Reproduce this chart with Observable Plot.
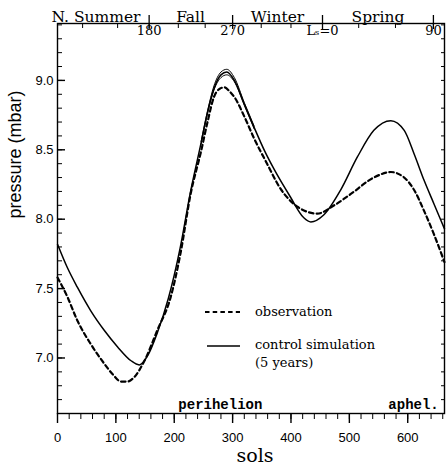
<!DOCTYPE html>
<html><head><meta charset="utf-8">
<script src="https://cdn.jsdelivr.net/npm/d3@7"></script>
<script src="https://cdn.jsdelivr.net/npm/@observablehq/plot@0.6"></script>
<style>body{margin:0;background:#fff}#chart{width:447px;height:467px}</style>
</head><body><div id="chart"></div>
<script>
// Observed surface pressure (dashed)
const obsSols = [0, 17, 34, 57, 80, 95, 109, 120, 131, 149, 171, 194, 211, 228, 246, 257, 268, 278, 286, 295, 303, 320, 337, 359, 382, 411, 430, 445, 474, 502, 542, 571, 594, 611, 628, 645, 663];
const obsPressure = [7.58, 7.44, 7.27, 7.10, 6.96, 6.88, 6.83, 6.83, 6.86, 6.98, 7.20, 7.44, 7.76, 8.18, 8.49, 8.70, 8.88, 8.94, 8.95, 8.92, 8.88, 8.74, 8.58, 8.40, 8.22, 8.09, 8.05, 8.04, 8.10, 8.18, 8.30, 8.34, 8.30, 8.21, 8.06, 7.89, 7.69];
// Control simulation (solid)
const simSols = [0, 17, 34, 57, 80, 103, 126, 140, 155, 170, 190, 210, 228, 246, 257, 268, 280, 290, 303, 320, 337, 355, 371, 399, 422, 434, 456, 485, 514, 542, 571, 594, 611, 628, 645, 663];
const simPressure = [7.82, 7.65, 7.51, 7.34, 7.20, 7.08, 6.98, 6.95, 7.02, 7.17, 7.43, 7.79, 8.20, 8.55, 8.77, 8.94, 9.04, 9.06, 9.00, 8.83, 8.66, 8.49, 8.36, 8.16, 8.01, 7.98, 8.03, 8.21, 8.45, 8.64, 8.71, 8.64, 8.47, 8.28, 8.11, 7.93];
// other simulated years near the perihelion peak
const yearSols = [246, 257, 268, 280, 290, 303, 320, 337];
const year2Pressure = [8.54, 8.76, 8.93, 9.02, 9.04, 8.99, 8.82, 8.65];
const year3Pressure = [8.56, 8.78, 8.96, 9.06, 9.08, 9.02, 8.84, 8.67];

const xTicks = [0, 100, 200, 300, 400, 500, 600];
const yTicks = [7.0, 7.5, 8.0, 8.5, 9.0];
const lsTickLs = [120, 150, 180, 210, 240, 270, 300, 330, 0, 30, 60, 90];
const lsTickSols = [43, 103, 157, 207, 253, 300, 349, 400, 454, 516, 579, 644];
const lsLabels = ["180", "270", "L\u209B=0", "90"];
const lsLabelSols = [157, 300, 454, 644];
const seasons = ["N. Summer", "Fall", "Winter", "Spring"];
const seasonSols = [66, 228, 377, 549];
const orbitLabels = ["perihelion", "aphel."];
const orbitSols = [279, 610];
const legendLabels = ["observation", "control simulation", "(5 years)"];

const obs = obsSols.map((s, i) => ({sol: s, p: obsPressure[i]}));
const sim = simSols.map((s, i) => ({sol: s, p: simPressure[i]}));
const y2 = yearSols.map((s, i) => ({sol: s, p: year2Pressure[i]}));
const y3 = yearSols.map((s, i) => ({sol: s, p: year3Pressure[i]}));

const W = 447, H = 467, mL = 57, mR = 3, mT = 23, mB = 54;
const pw = W - mL - mR, ph = H - mT - mB;
const serif = "DejaVu Serif";
const sans = "Liberation Sans";

const svg = Plot.plot({
  width: W, height: H,
  marginLeft: mL, marginRight: mR, marginTop: mT, marginBottom: mB,
  x: {domain: [0, 663], axis: null},
  y: {domain: [6.6, 9.41], axis: null},
  style: {background: "#fff", color: "#000"},
  marks: [
    Plot.frame({stroke: "#000", strokeWidth: 1.4}),
    // bottom ticks
    Plot.tickX(d3.range(0, 661, 20), {x: d => d, insetTop: ph, insetBottom: -6, stroke: "#000"}),
    Plot.tickX(xTicks, {x: d => d, insetTop: ph, insetBottom: -10, stroke: "#000", strokeWidth: 1.4}),
    Plot.text(xTicks, {x: d => d, text: d => String(d), frameAnchor: "bottom", lineAnchor: "top", dy: 19, fontSize: 13, fontFamily: sans}),
    // left ticks (inward)
    Plot.tickY(d3.range(67, 95, 1).map(d => d / 10), {y: d => d, insetRight: pw - 5, stroke: "#000"}),
    Plot.tickY(yTicks, {y: d => d, insetRight: pw - 8, stroke: "#000", strokeWidth: 1.4}),
    Plot.tickY(d3.range(67, 95, 1).map(d => d / 10), {y: d => d, insetLeft: pw - 3, stroke: "#000"}),
    Plot.text(yTicks, {y: d => d, text: d => d.toFixed(1), frameAnchor: "left", textAnchor: "end", dx: -4, fontSize: 13, fontFamily: sans}),
    // top Ls axis
    Plot.tickX(lsTickSols, {x: d => d, insetBottom: ph - 5, stroke: "#000"}),
    Plot.tickX(lsLabelSols, {x: d => d, insetTop: -8, insetBottom: ph - 6, stroke: "#000", strokeWidth: 1.3}),
    Plot.text(lsLabels, {x: (d, i) => lsLabelSols[i], text: d => d, frameAnchor: "top", lineAnchor: "top", dy: 2, fontSize: 13, fontFamily: serif}),
    Plot.text(seasons, {x: (d, i) => seasonSols[i], text: d => d, frameAnchor: "top", lineAnchor: "bottom", dy: -2, fontSize: 15.5, fontFamily: serif}),
    Plot.text(orbitLabels, {x: (d, i) => orbitSols[i], text: d => d, frameAnchor: "bottom", lineAnchor: "bottom", dy: -5, fontSize: 14, fontWeight: "bold", fontFamily: "Liberation Mono"}),
    // data
    Plot.line(y2, {x: "sol", y: "p", stroke: "#000", strokeWidth: 1, curve: "monotone-x"}),
    Plot.line(y3, {x: "sol", y: "p", stroke: "#000", strokeWidth: 1, curve: "monotone-x"}),
    Plot.line(sim, {x: "sol", y: "p", stroke: "#000", strokeWidth: 1.5, curve: "monotone-x"}),
    Plot.line(obs, {x: "sol", y: "p", stroke: "#000", strokeWidth: 2.2, strokeDasharray: "4.5,3.2", curve: "monotone-x"}),
    // axis titles
    Plot.text(["pressure (mbar)"], {frameAnchor: "left", rotate: -90, dx: -42, fontSize: 18, fontFamily: sans}),
    Plot.text(["sols"], {frameAnchor: "bottom", dy: 48, dx: 4, fontSize: 19, fontFamily: serif})
  ]
});

// in-plot legend
const g = d3.select(svg).append("g").attr("font-family", serif).attr("font-size", 13).attr("text-anchor", "start");
g.append("line").attr("x1", 205).attr("x2", 240).attr("y1", 312).attr("y2", 312)
  .attr("stroke", "#000").attr("stroke-width", 2.2).attr("stroke-dasharray", "4.5,3.2");
g.append("line").attr("x1", 207).attr("x2", 240).attr("y1", 346).attr("y2", 346)
  .attr("stroke", "#000").attr("stroke-width", 1.5);
const ly = [312, 345, 363];
legendLabels.forEach((t, i) => {
  g.append("text").attr("x", 255).attr("y", ly[i]).attr("dy", "0.32em").attr("text-anchor", "start").text(t);
});

document.getElementById("chart").appendChild(svg);
</script>
</body></html>
